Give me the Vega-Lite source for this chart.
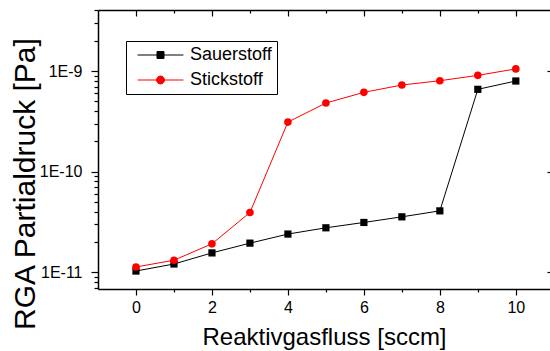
{
  "$schema": "https://vega.github.io/schema/vega-lite/v6.json",
  "width": 452,
  "height": 279,
  "autosize": {"type": "none"},
  "padding": {"left": 98, "top": 10, "right": 0, "bottom": 62},
  "background": "white",
  "config": {
    "font": "Liberation Sans",
    "view": {"stroke": null},
    "axis": {"labelColor": "black", "titleColor": "black", "tickColor": "black", "domainColor": "black", "grid": false, "titleFontWeight": "normal", "domainWidth": 1.5, "tickWidth": 1.2},
    "legend": {
      "orient": "none",
      "legendX": 28,
      "legendY": 31,
      "strokeColor": "black",
      "fillColor": "white",
      "padding": 5,
      "labelFontSize": 18,
      "labelColor": "black",
      "symbolSize": 289,
      "symbolStrokeWidth": 1,
      "symbolOpacity": 1,
      "symbolOffset": 20.5,
      "labelOffset": 20.5,
      "rowPadding": 7
    }
  },
  "data": {
    "values": [
      {"x": 0, "v": 1.03e-11, "series": "Sauerstoff"},
      {"x": 1, "v": 1.21e-11, "series": "Sauerstoff"},
      {"x": 2, "v": 1.56e-11, "series": "Sauerstoff"},
      {"x": 3, "v": 1.95e-11, "series": "Sauerstoff"},
      {"x": 4, "v": 2.40e-11, "series": "Sauerstoff"},
      {"x": 5, "v": 2.77e-11, "series": "Sauerstoff"},
      {"x": 6, "v": 3.13e-11, "series": "Sauerstoff"},
      {"x": 7, "v": 3.56e-11, "series": "Sauerstoff"},
      {"x": 8, "v": 4.08e-11, "series": "Sauerstoff"},
      {"x": 9, "v": 6.58e-10, "series": "Sauerstoff"},
      {"x": 10, "v": 7.96e-10, "series": "Sauerstoff"},
      {"x": 0, "v": 1.13e-11, "series": "Stickstoff"},
      {"x": 1, "v": 1.32e-11, "series": "Stickstoff"},
      {"x": 2, "v": 1.92e-11, "series": "Stickstoff"},
      {"x": 3, "v": 3.93e-11, "series": "Stickstoff"},
      {"x": 4, "v": 3.11e-10, "series": "Stickstoff"},
      {"x": 5, "v": 4.81e-10, "series": "Stickstoff"},
      {"x": 6, "v": 6.14e-10, "series": "Stickstoff"},
      {"x": 7, "v": 7.26e-10, "series": "Stickstoff"},
      {"x": 8, "v": 8.01e-10, "series": "Stickstoff"},
      {"x": 9, "v": 9.06e-10, "series": "Stickstoff"},
      {"x": 10, "v": 1.05e-9, "series": "Stickstoff"}
    ]
  },
  "layer": [
    {
      "transform": [{"filter": "false"}],
      "mark": {"type": "point", "filled": false, "strokeWidth": 1, "opacity": 1},
      "encoding": {
        "x": {"field": "x", "type": "quantitative", "axis": null},
        "y": {"field": "v", "type": "quantitative", "scale": {"type": "log"}, "axis": null},
        "color": {"field": "series", "type": "nominal", "scale": {"domain": ["Sauerstoff", "Stickstoff"], "range": ["#000000", "#ff0000"]}, "legend": {"title": null}},
        "fill": {"field": "series", "type": "nominal", "scale": {"domain": ["Sauerstoff", "Stickstoff"], "range": ["#000000", "#ff0000"]}, "legend": {"title": null}},
        "shape": {
          "field": "series", "type": "nominal",
          "scale": {"domain": ["Sauerstoff", "Stickstoff"], "range": ["M-2.7,0H2.7M-0.41,-0.41H0.41V0.41H-0.41Z", "M-2.7,0H2.7M0.47,0A0.47,0.47 0 1,1 -0.47,0A0.47,0.47 0 1,1 0.47,0Z"]},
          "legend": {"title": null}
        }
      }
    },
    {
      "mark": {"type": "line", "strokeWidth": 1},
      "encoding": {
        "x": {
          "field": "x", "type": "quantitative",
          "scale": {"domain": [-1, 10.9], "nice": false, "zero": false},
          "axis": {
            "title": "Reaktivgasfluss [sccm]",
            "values": [0, 1, 2, 3, 4, 5, 6, 7, 8, 9, 10],
            "labelExpr": "datum.value % 2 === 0 ? datum.label : ''",
            "labelFontSize": 16,
            "labelOverlap": false,
            "labelFlush": false,
            "tickSize": {"condition": {"test": "datum.value % 2 === 0", "value": 6}, "value": 3},
            "labelPadding": 4,
            "titleFontSize": 24,
            "titleBaseline": "alphabetic",
            "titleY": 55
          }
        },
        "y": {
          "field": "v", "type": "quantitative",
          "scale": {"type": "log", "domain": [6.83e-12, 4.04e-9], "nice": false},
          "axis": {
            "title": "RGA Partialdruck [Pa]",
            "values": [7e-12, 8e-12, 9e-12, 1e-11, 2e-11, 3e-11, 4e-11, 5e-11, 6e-11, 7e-11, 8e-11, 9e-11, 1e-10, 2e-10, 3e-10, 4e-10, 5e-10, 6e-10, 7e-10, 8e-10, 9e-10, 1e-9, 2e-9, 3e-9, 4e-9],
            "labelExpr": "abs(log(datum.value)/LN10 - round(log(datum.value)/LN10)) < 0.001 ? '1E' + round(log(datum.value)/LN10) : ''",
            "labelFontSize": 16,
            "labelOverlap": false,
            "labelFlush": false,
            "tickSize": {"condition": {"test": "abs(log(datum.value)/LN10 - round(log(datum.value)/LN10)) < 0.001", "value": 7}, "value": 4},
            "labelPadding": 9,
            "titleFontSize": 30,
            "titleAngle": -90,
            "titleX": -64,
            "titleY": 173.5,
            "titleAlign": "center",
            "titleBaseline": "alphabetic"
          }
        },
        "color": {"field": "series", "type": "nominal"}
      }
    },
    {
      "transform": [{"filter": "datum.series === 'Sauerstoff'"}],
      "mark": {"type": "point", "shape": "square", "filled": true, "size": 52, "opacity": 1},
      "encoding": {
        "x": {"field": "x", "type": "quantitative", "axis": null},
        "y": {"field": "v", "type": "quantitative", "scale": {"type": "log"}, "axis": null},
        "color": {"field": "series", "type": "nominal"}
      }
    },
    {
      "transform": [{"filter": "datum.series === 'Stickstoff'"}],
      "mark": {"type": "point", "shape": "circle", "filled": true, "size": 58, "opacity": 1},
      "encoding": {
        "x": {"field": "x", "type": "quantitative", "axis": null},
        "y": {"field": "v", "type": "quantitative", "scale": {"type": "log"}, "axis": null},
        "color": {"field": "series", "type": "nominal"}
      }
    },
    {
      "mark": {"type": "point", "opacity": 0},
      "encoding": {
        "x": {
          "field": "x", "type": "quantitative",
          "axis": {
            "orient": "top", "title": null, "labels": false,
            "values": [0, 1, 2, 3, 4, 5, 6, 7, 8, 9, 10],
            "tickSize": {"condition": {"test": "datum.value % 2 === 0", "value": -6}, "value": -3}
          }
        },
        "y": {
          "field": "v", "type": "quantitative", "scale": {"type": "log"},
          "axis": {
            "orient": "right", "title": null, "labels": false, "domain": false, "offset": 4,
            "values": [7e-12, 8e-12, 9e-12, 1e-11, 2e-11, 3e-11, 4e-11, 5e-11, 6e-11, 7e-11, 8e-11, 9e-11, 1e-10, 2e-10, 3e-10, 4e-10, 5e-10, 6e-10, 7e-10, 8e-10, 9e-10, 1e-9, 2e-9, 3e-9, 4e-9],
            "tickSize": {"condition": {"test": "abs(log(datum.value)/LN10 - round(log(datum.value)/LN10)) < 0.001", "value": -7}, "value": -3}
          }
        }
      }
    }
  ],
  "resolve": {"axis": {"x": "independent", "y": "independent"}}
}
